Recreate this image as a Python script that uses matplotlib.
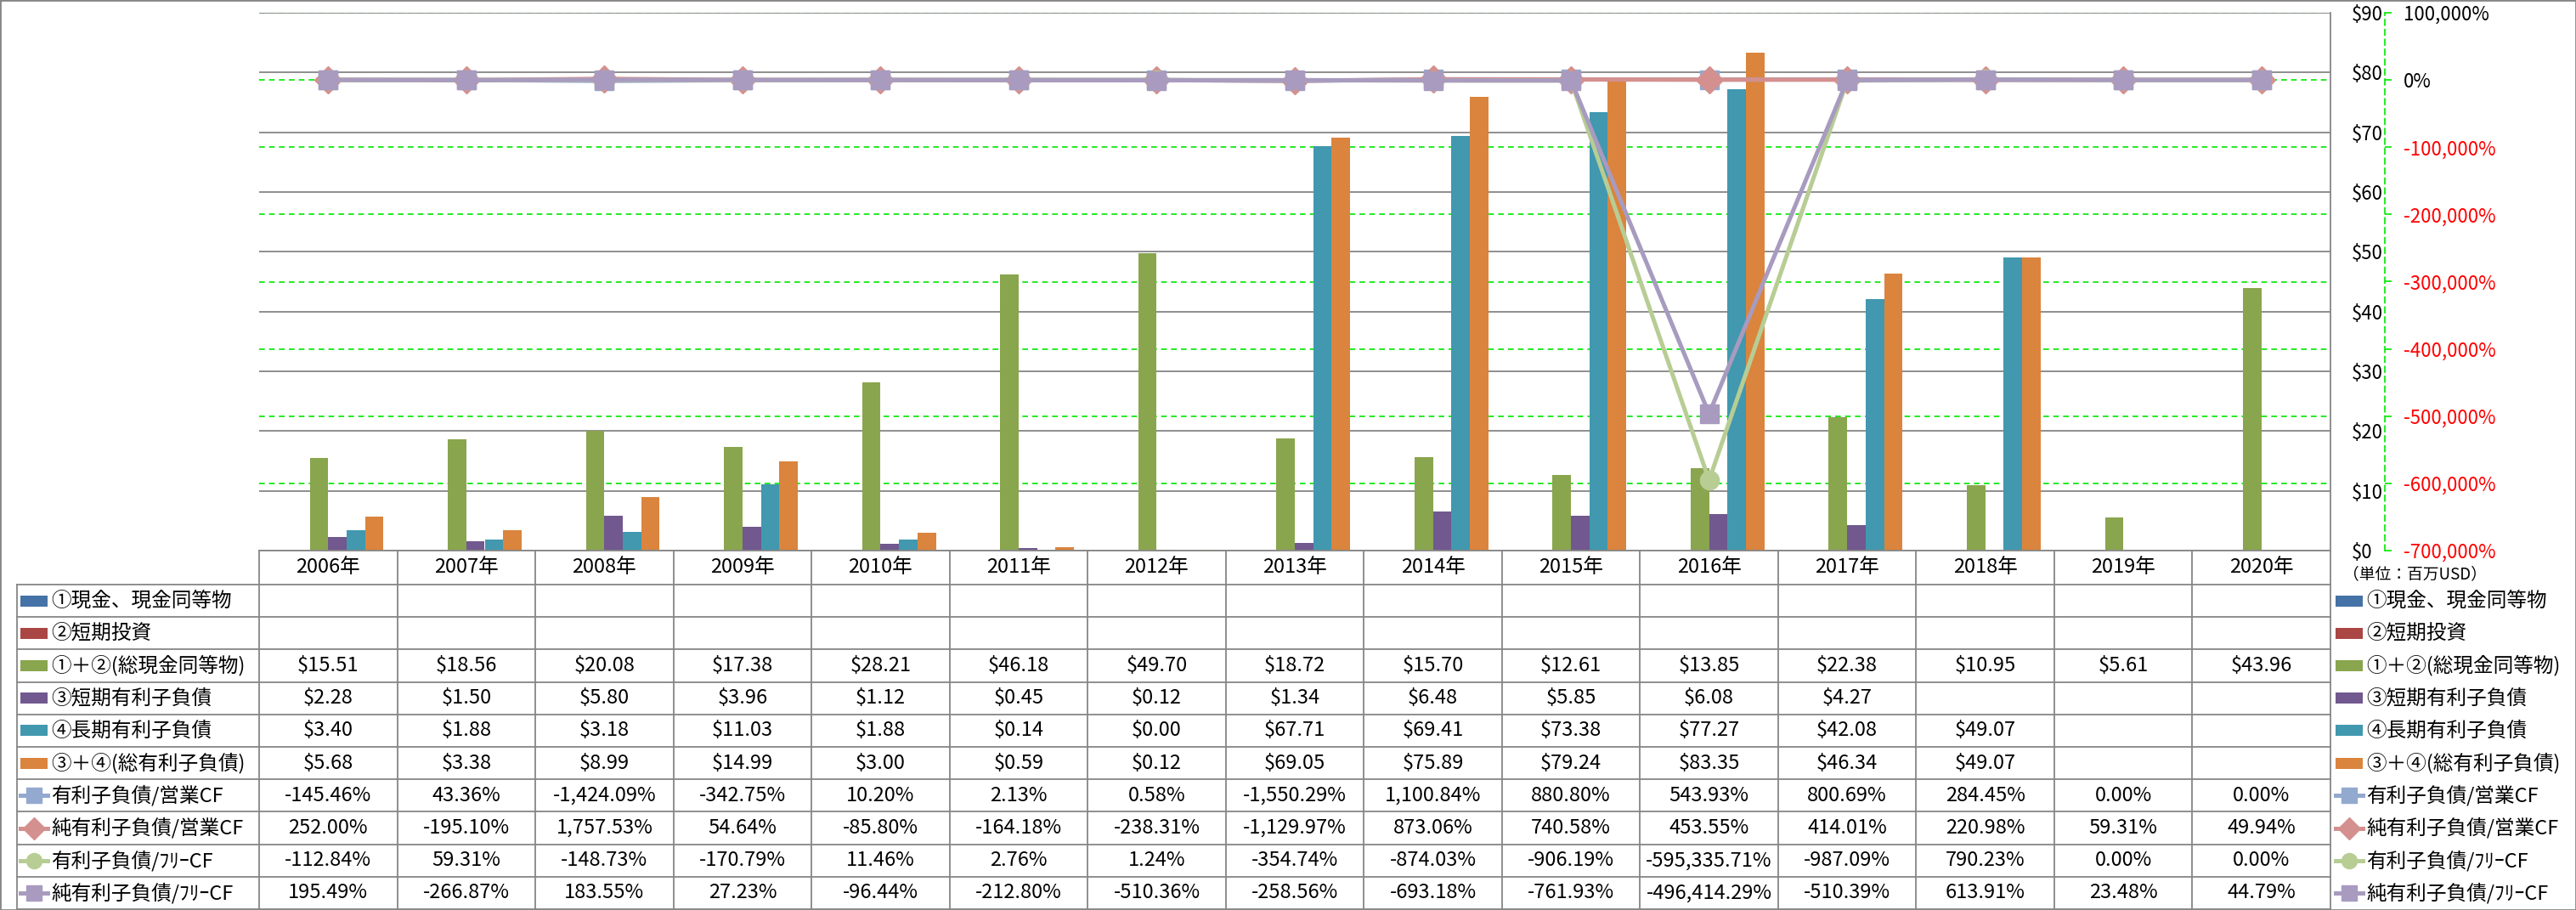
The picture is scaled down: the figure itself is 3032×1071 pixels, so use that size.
import matplotlib
matplotlib.use('Agg')
import matplotlib.pyplot as plt
from matplotlib.lines import Line2D
from matplotlib.patches import Rectangle
import numpy as np

plt.rcParams['font.family'] = ['Noto Sans CJK JP', 'DejaVu Sans']

# ---------------- data ----------------
years = ["2006年", "2007年", "2008年", "2009年", "2010年", "2011年", "2012年", "2013年",
         "2014年", "2015年", "2016年", "2017年", "2018年", "2019年", "2020年"]

cash_eq = [None] * 15          # ①現金、現金同等物
short_inv = [None] * 15        # ②短期投資
total_cash = [15.51, 18.56, 20.08, 17.38, 28.21, 46.18, 49.70, 18.72, 15.70, 12.61, 13.85, 22.38, 10.95, 5.61, 43.96]
short_debt = [2.28, 1.50, 5.80, 3.96, 1.12, 0.45, 0.12, 1.34, 6.48, 5.85, 6.08, 4.27, None, None, None]
long_debt = [3.40, 1.88, 3.18, 11.03, 1.88, 0.14, 0.00, 67.71, 69.41, 73.38, 77.27, 42.08, 49.07, None, None]
total_debt = [5.68, 3.38, 8.99, 14.99, 3.00, 0.59, 0.12, 69.05, 75.89, 79.24, 83.35, 46.34, 49.07, None, None]

debt_ocf = [-145.46, 43.36, -1424.09, -342.75, 10.20, 2.13, 0.58, -1550.29, 1100.84, 880.80, 543.93, 800.69, 284.45, 0.00, 0.00]
netdebt_ocf = [252.00, -195.10, 1757.53, 54.64, -85.80, -164.18, -238.31, -1129.97, 873.06, 740.58, 453.55, 414.01, 220.98, 59.31, 49.94]
debt_fcf = [-112.84, 59.31, -148.73, -170.79, 11.46, 2.76, 1.24, -354.74, -874.03, -906.19, -595335.71, -987.09, 790.23, 0.00, 0.00]
netdebt_fcf = [195.49, -266.87, 183.55, 27.23, -96.44, -212.80, -510.36, -258.56, -693.18, -761.93, -496414.29, -510.39, 613.91, 23.48, 44.79]

bar_names = ["①現金、現金同等物", "②短期投資", "①＋②(総現金同等物)", "③短期有利子負債", "④長期有利子負債", "③＋④(総有利子負債)"]
line_names = ["有利子負債/営業CF", "純有利子負債/営業CF", "有利子負債/ﾌﾘｰCF", "純有利子負債/ﾌﾘｰCF"]

primary_ticks = list(range(0, 100, 10))
secondary_ticks = list(range(-700000, 100001, 100000))

# ---------------- styles ----------------
bar_colors = ["#4572A7", "#AA4643", "#89A54E", "#71588F", "#4198AF", "#DB843D"]
line_colors = ["#93A9CF", "#D4908E", "#B7CD94", "#A89BBF"]
line_markers = ["s", "D", "o", "s"]
GRID = "#868686"
GREEN = "#00E600"

W, H = 3032, 1071
fig = plt.figure(figsize=(W / 100, H / 100), dpi=100)
fig.patch.set_facecolor("white")


def fx(x):
    return x / W


def fy(y):
    return 1 - y / H


PL, PR, PT, PB = 305, 2743, 15, 648
ax = fig.add_axes([fx(PL), fy(PB), fx(PR) - fx(PL), fy(PT) - fy(PB)])
ax.set_xlim(-0.5, 14.5)
ax.set_ylim(0, 90)
for s in ax.spines.values():
    s.set_visible(False)
ax.set_xticks([])

smin, smax = secondary_ticks[0], secondary_ticks[-1]
for t in secondary_ticks:
    ax.axhline((t - smin) / (smax - smin) * 90, color=GREEN, lw=1.2, ls=(0, (4, 3)), zorder=0.4)
for v in primary_ticks:
    ax.axhline(v, color=GRID, lw=1.3, zorder=0.6)

# bars
bw = 21.7 / ((PR - PL) / 15)
bar_series = [cash_eq, short_inv, total_cash, short_debt, long_debt, total_debt]
xs = np.arange(len(years))
for k, (vals, col) in enumerate(zip(bar_series, bar_colors)):
    px = [i + (k - 2.5) * bw for i, v in enumerate(vals) if v is not None]
    pv = [v for v in vals if v is not None]
    if pv:
        ax.bar(px, pv, width=bw, color=col, zorder=2, linewidth=0)

# secondary axis
ax2 = ax.twinx()
ax2.set_ylim(smin, smax)
ax2.set_xlim(-0.5, 14.5)
for name, s in ax2.spines.items():
    s.set_visible(name == "right")
ax2.spines["right"].set_position(("outward", 64 * 0.72))
ax2.spines["right"].set_color(GREEN)
ax2.spines["right"].set_linestyle((0, (4, 3)))
ax2.spines["right"].set_linewidth(1.2)
ax2.set_yticks(secondary_ticks)
ax2.set_yticklabels([f"{v:,}%" for v in secondary_ticks])
ax2.tick_params(axis="y", colors=GREEN, length=6, width=1.2, pad=10, labelsize=16)
for lab, v in zip(ax2.get_yticklabels(), secondary_ticks):
    lab.set_color("#FF0000" if v < 0 else "black")

# primary axis labels on the right (after twinx, which resets them to the left)
ax.yaxis.tick_right()
ax.set_yticks(primary_ticks)
ax.set_yticklabels([f"${v}" for v in primary_ticks])
ax.tick_params(axis="y", left=False, labelleft=False, right=False, labelright=True,
               length=0, pad=18, labelsize=16)
for lab in ax.get_yticklabels():
    lab.set_horizontalalignment("left")

line_series = [debt_ocf, netdebt_ocf, debt_fcf, netdebt_fcf]
for vals, col, mk in zip(line_series, line_colors, line_markers):
    ax2.plot(xs, vals, color=col, lw=3.6, marker=mk, ms=16, mec=col, mfc=col, zorder=3,
             solid_joinstyle="round")

# ---------------- data table ----------------
TL = 20
HDR_B = 688
ROW_H = 38.2
NROWS = 10
TB = HDR_B + ROW_H * NROWS
colw = (PR - PL) / 15


def hline(y, x0, x1):
    fig.add_artist(Line2D([fx(x0), fx(x1)], [fy(y), fy(y)], color=GRID, lw=1.3))


def vline(x, y0, y1):
    fig.add_artist(Line2D([fx(x), fx(x)], [fy(y0), fy(y1)], color=GRID, lw=1.3))


hline(PB, PL, PR)
for j in range(NROWS + 1):
    hline(HDR_B + j * ROW_H, TL, PR)
for i in range(15):
    vline(PL + i * colw, PB, TB)
vline(PR, PT, TB)
vline(TL, HDR_B, TB)

FS = 17
for i, yr in enumerate(years):
    fig.text(fx(PL + (i + 0.5) * colw), fy((PB + HDR_B) / 2), yr, ha="center", va="center", fontsize=FS)

table_rows = bar_series + line_series
for j, vals in enumerate(table_rows):
    yc = HDR_B + (j + 0.5) * ROW_H
    for i, v in enumerate(vals):
        if v is None:
            continue
        s = f"${v:,.2f}" if j < 6 else f"{v:,.2f}%"
        fig.text(fx(PL + (i + 0.5) * colw), fy(yc), s, ha="center", va="center", fontsize=FS)


def legend_key(x0, yc, j):
    if j < 6:
        fig.add_artist(Rectangle((fx(x0), fy(yc + 6.5)), fx(32), 13 / H, transform=fig.transFigure,
                                 facecolor=bar_colors[j], edgecolor="none"))
    else:
        k = j - 6
        fig.add_artist(Line2D([fx(x0), fx(x0 + 32)], [fy(yc), fy(yc)], color=line_colors[k], lw=3.6))
        fig.add_artist(Line2D([fx(x0 + 16)], [fy(yc)], marker=line_markers[k], ms=13,
                              color=line_colors[k], lw=0))


all_names = bar_names + line_names
for j, name in enumerate(all_names):
    yc = HDR_B + (j + 0.5) * ROW_H
    legend_key(24, yc, j)
    fig.text(fx(60), fy(yc), name, ha="left", va="center", fontsize=FS)
    legend_key(2749, yc, j)
    fig.text(fx(2785), fy(yc), name, ha="left", va="center", fontsize=FS)

fig.text(fx(2758), fy(676), "（単位：百万USD）", ha="left", va="center", fontsize=13.5)

fig.add_artist(Rectangle((0, 0), 1, 1, transform=fig.transFigure, fill=False, edgecolor=GRID, lw=2))

fig.savefig("out.png", dpi=100)
